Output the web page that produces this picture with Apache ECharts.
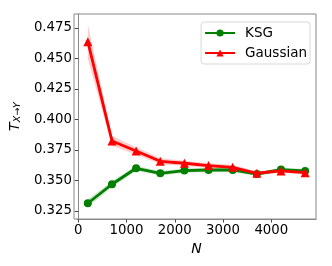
<!DOCTYPE html>
<html><head><meta charset="utf-8">
<script src="https://cdn.jsdelivr.net/npm/echarts@6/dist/echarts.min.js"></script>
<style>html,body{margin:0;padding:0;background:#fff}#c{width:332px;height:266px}</style>
</head><body><div id="c"></div>
<script>
var nValues = [200, 700, 1200, 1700, 2200, 2700, 3200, 3700, 4200, 4700];
var ksg = [0.3313, 0.3469, 0.3600, 0.3559, 0.3581, 0.3586, 0.3586, 0.3553, 0.3589, 0.3578];
var ksgErr = [0.003, 0.0025, 0.002, 0.0018, 0.0018, 0.0018, 0.0018, 0.0015, 0.0015, 0.0015];
var gauss = [0.4638, 0.3824, 0.3742, 0.3657, 0.3641, 0.3622, 0.3608, 0.3559, 0.3578, 0.3564];
var gaussErr = [0.014, 0.004, 0.003, 0.0025, 0.002, 0.002, 0.002, 0.0015, 0.0015, 0.0015];
var xTicks = [0, 1000, 2000, 3000, 4000];
var yTicks = [0.325, 0.350, 0.375, 0.400, 0.425, 0.450, 0.475];

function pts(vals){ return nValues.map(function(n,i){return [n, vals[i]];}); }

var FONT = 'DejaVu Sans';
var chart = echarts.init(document.getElementById('c'));
function bandSeries(v, e, color){
  return {type:'custom', silent:true, z:1, data:[[nValues[0], v[0]]],
    renderItem:function(params, api){
      var up = [], lo = [];
      for (var i=0;i<nValues.length;i++){
        up.push(api.coord([nValues[i], v[i]+e[i]]));
        lo.unshift(api.coord([nValues[i], v[i]-e[i]]));
      }
      return {type:'polygon', shape:{points:up.concat(lo)}, style:{fill:color}};
    }};
}
var series = [
  bandSeries(ksg, ksgErr, 'rgba(0,128,0,0.2)'),
  bandSeries(gauss, gaussErr, 'rgba(255,0,0,0.2)'),
  {type:'line', name:'KSG', data:pts(ksg), color:'#008000', symbol:'circle', symbolSize:8,
   lineStyle:{width:2.8, color:'#008000'}, itemStyle:{color:'#008000'}, z:3},
  {type:'line', name:'Gaussian', data:pts(gauss), color:'#ff0000', symbol:'triangle', symbolSize:9,
   lineStyle:{width:2.8, color:'#ff0000'}, itemStyle:{color:'#ff0000'}, z:4}
];
chart.setOption({
  animation:false,
  textStyle:{fontFamily:FONT},
  grid:{left:74, right:16, top:14, bottom:47},
  legend:{data:['KSG','Gaussian'], right:22, top:22, orient:'vertical', itemWidth:30, itemHeight:9, itemGap:6,
    padding:[4,3,4,3], borderColor:'#d8d8d8', borderWidth:1, borderRadius:3, backgroundColor:'rgba(255,255,255,0.8)',
    textStyle:{fontSize:13.5, color:'#000', fontFamily:FONT, padding:[0,0,0,5]}},
  xAxis:{type:'value', min:-25, max:4925,
    name:'N', nameLocation:'middle', nameGap:22,
    nameTextStyle:{fontSize:14, fontStyle:'italic', color:'#000', fontFamily:FONT},
    axisLine:{show:true, lineStyle:{color:'#888', width:1}},
    axisTick:{show:true, length:3.5, customValues:xTicks, lineStyle:{color:'#444'}},
    axisLabel:{customValues:xTicks, fontSize:13.3, color:'#000', margin:5, fontFamily:FONT,
      formatter:function(v){return String(v);}},
    splitLine:{show:false}},
  yAxis:{type:'value', min:0.3184, max:0.4865,
    name:'{t|T}{s|X→Y}', nameLocation:'middle', nameGap:42, nameRotate:90,
    nameTextStyle:{rich:{t:{fontSize:14, fontStyle:'italic', color:'#000', fontFamily:FONT},
                         s:{fontSize:9.5, fontStyle:'italic', color:'#000', fontFamily:FONT, padding:[6,0,0,0]}}},
    axisLine:{show:true, lineStyle:{color:'#888', width:1}},
    axisTick:{show:true, length:3.5, customValues:yTicks, lineStyle:{color:'#444'}},
    axisLabel:{customValues:yTicks, fontSize:13.3, color:'#000', margin:5, fontFamily:FONT,
      formatter:function(v){return v.toFixed(3);}},
    splitLine:{show:false}},
  graphic:[{type:'rect', shape:{x:74, y:14, width:242, height:205}, style:{fill:'none', stroke:'#888', lineWidth:1}, silent:true, z:10}],
  series:series
});
</script></body></html>
